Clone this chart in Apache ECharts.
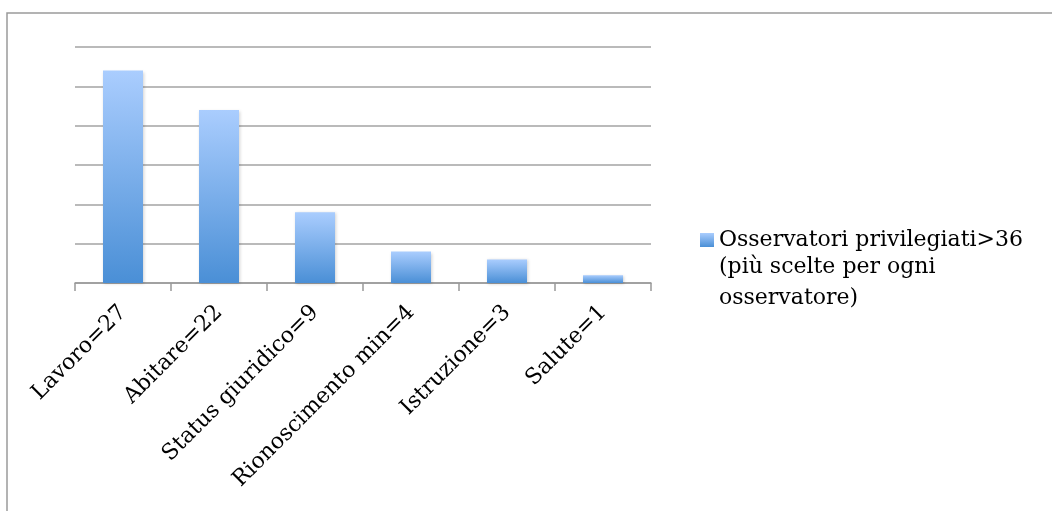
<!DOCTYPE html>
<html>
<head>
<meta charset="utf-8">
<script src="https://cdn.jsdelivr.net/npm/echarts@6/dist/echarts.min.js"></script>
<style>
  html, body { margin: 0; padding: 0; background: #fff; }
  #chartDiv { width: 1052px; height: 511px; }
</style>
</head>
<body>
<div id="chartDiv"></div>
<script>
const categories = ['Lavoro=27', 'Abitare=22', 'Status giuridico=9', 'Rionoscimento min=4', 'Istruzione=3', 'Salute=1'];
const values = [27, 22, 9, 4, 3, 1];
const seriesName = 'Osservatori privilegiati>36';
const legendMoreLines = ['(più scelte per ogni', 'osservatore)'];

const FONT = 'DejaVu Serif';
const LEGEND_X = 700;
const LEGEND_Y = 229;
const LINE_H = 31;

let chart = echarts.init(document.getElementById('chartDiv'));

const option = {
  animation: false,
  backgroundColor: '#fff',
  grid: {
    left: 75,
    right: 401,
    top: 47,
    bottom: 228,
    containLabel: false
  },
  graphic: [{
    type: 'rect',
    silent: true,
    shape: { x: 7, y: 13, width: 1200, height: 700 },
    style: { fill: 'none', stroke: '#9a9a9a', lineWidth: 1.5 }
  }, {
    // rest of the legend label, continues under the first line
    type: 'text',
    silent: true,
    left: LEGEND_X + 19,
    top: LEGEND_Y + 7 + LINE_H / 2,
    style: {
      text: legendMoreLines.join('\n'),
      font: '22px "' + FONT + '"',
      lineHeight: LINE_H,
      fill: '#000'
    }
  }],
  legend: {
    left: LEGEND_X,
    top: LEGEND_Y,
    icon: 'rect',
    itemWidth: 14,
    itemHeight: 14,
    padding: 0,
    textStyle: {
      fontFamily: FONT,
      fontSize: 22,
      color: '#000'
    }
  },
  xAxis: {
    type: 'category',
    data: categories,
    axisLine: { lineStyle: { color: '#999', width: 1.5 } },
    axisTick: { show: true, length: 8, lineStyle: { color: '#999', width: 1.5 } },
    axisLabel: {
      rotate: 45,
      margin: 26,
      interval: 0,
      fontFamily: FONT,
      fontSize: 22,
      color: '#000'
    }
  },
  yAxis: {
    type: 'value',
    min: 0,
    max: 30,
    interval: 5,
    axisLine: { show: false },
    axisTick: { show: false },
    axisLabel: { show: false },
    splitLine: { lineStyle: { color: '#a3a3a3', width: 1.5 } }
  },
  series: [{
    name: seriesName,
    type: 'bar',
    barWidth: 40,
    data: values,
    itemStyle: {
      color: new echarts.graphic.LinearGradient(0, 0, 0, 1, [
        { offset: 0, color: '#aacdfe' },
        { offset: 1, color: '#4a8fd6' }
      ]),
      shadowColor: 'rgba(0,0,0,0.18)',
      shadowBlur: 3,
      shadowOffsetX: 1,
      shadowOffsetY: 1
    }
  }]
};

chart.setOption(option);
</script>
</body>
</html>
